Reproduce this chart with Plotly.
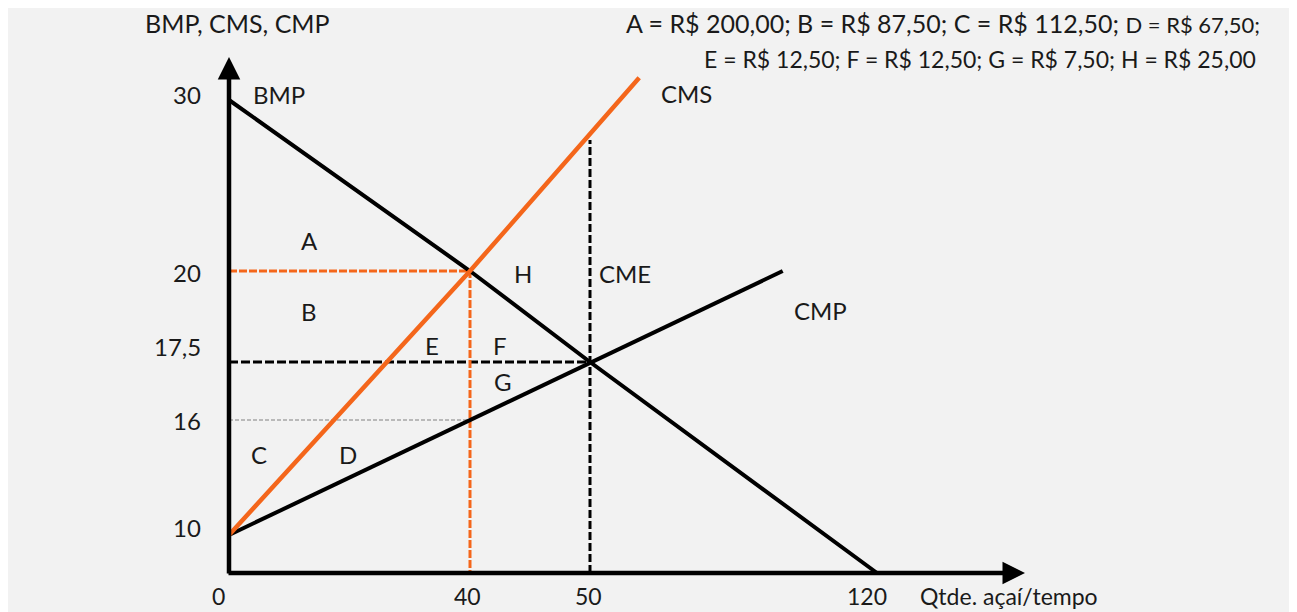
import numpy as np
import plotly.graph_objects as go

# ---------------- data (schematic diagram) ----------------
Q_TICKS = [0, 40, 50, 120]
Q_TICK_LABELS = ["0", "40", "50", "120"]
P_TICKS = [0, 10, 16, 17.5, 20, 30]
P_TICK_LABELS = ["", "10", "16", "17,5", "20", "30"]

BMP_Q = [0, 40, 50, 120]
BMP_P = [30, 20, 17.5, 0]
CMS_Q = [0, 40, 62]
CMS_P = [10, 20, 31.3]
CMP_Q = [0, 40, 50, 97]
CMP_P = [10, 16, 17.5, 20]

Q_SOCIAL, P_SOCIAL = 40, 20        # BMP = CMS
Q_MARKET, P_MARKET = 50, 17.5      # BMP = CMP
P_CMP_AT_SOCIAL = 16               # CMP at Q_SOCIAL

AREA_NAMES = ["A", "B", "C", "D", "E", "F", "G", "H"]
AREA_VALUES = ["R$ 200,00", "R$ 87,50", "R$ 112,50", "R$ 67,50",
               "R$ 12,50", "R$ 12,50", "R$ 7,50", "R$ 25,00"]

X_TITLE = "Qtde. açaí/tempo"
Y_TITLE = "BMP, CMS, CMP"

# ---------------- layout of the schematic axes (page pixels) ----------------
W, H = 1297, 612
PAGE_MARGIN = 8                          # default body margin of the html page
X0_PX, Y0_PX = 229, 573                  # origin of the drawing on the page
X_TICK_POS = [0, 241, 361, 648]          # drawn positions of Q_TICKS
Y_TICK_POS = [0, 38, 153, 211, 302, 473]  # drawn positions of P_TICKS
X_ARROW_END = 796
Y_ARROW_END = 516


def _warp(v, ticks, pos):
    v = np.asarray(v, dtype=float)
    out = np.interp(v, ticks, pos)
    hi = v > ticks[-1]
    slope = (pos[-1] - pos[-2]) / (ticks[-1] - ticks[-2])
    out[hi] = pos[-1] + (v[hi] - ticks[-1]) * slope
    return out


def sx(q):
    return _warp(q, Q_TICKS, X_TICK_POS)


def sy(p):
    return _warp(p, P_TICKS, Y_TICK_POS)


ORANGE = "#F4661B"
BLACK = "#000000"
TXT = "#1a1a1a"
FONT = "Lato"
BG = "#f2f2f2"

fig = go.Figure()


def line(xs, ys, color, width, dash="solid"):
    fig.add_trace(go.Scatter(x=xs, y=ys, mode="lines",
                             line=dict(color=color, width=width, dash=dash),
                             hoverinfo="skip", showlegend=False))


# guide lines
line(sx([0, Q_SOCIAL]), sy([P_CMP_AT_SOCIAL] * 2), "#a6a6a6", 1.5, "4px,2px")
line(sx([0, Q_MARKET]), sy([P_MARKET] * 2), BLACK, 3, "9px,3px")
cms_x, cms_y = sx(CMS_Q), sy(CMS_P)
cme_top = float(np.interp(sx([Q_MARKET])[0], cms_x, cms_y))
line(sx([Q_MARKET, Q_MARKET]), [0, cme_top - 6], BLACK, 3, "8px,3px")
line(sx([0, Q_SOCIAL, Q_SOCIAL]), sy([P_SOCIAL, P_SOCIAL, 0]), ORANGE, 3, "8px,2px")

# curves
line(sx(BMP_Q), sy(BMP_P), BLACK, 4)
line(sx(CMP_Q), sy(CMP_P), BLACK, 4)
line(cms_x, cms_y, ORANGE, 4.5)

ann = []
# axes with arrows
ann.append(dict(x=0, y=Y_ARROW_END, ax=0, ay=-2, xref="x", yref="y", axref="x", ayref="y",
                text="", showarrow=True, arrowhead=2, arrowsize=1, arrowwidth=4.5,
                arrowcolor=BLACK, standoff=0))
ann.append(dict(x=X_ARROW_END, y=0, ax=-2, ay=0, xref="x", yref="y", axref="x", ayref="y",
                text="", showarrow=True, arrowhead=2, arrowsize=1, arrowwidth=4.5,
                arrowcolor=BLACK, standoff=0))


def text(x, y, s, size=24, xanchor="center"):
    ann.append(dict(x=x, y=y, xref="x", yref="y", text=s, showarrow=False,
                    xanchor=xanchor, yanchor="middle",
                    font=dict(family=FONT, size=size, color=TXT)))


# tick labels (positions derived from tick values, small offsets as drawn)
Y_LABEL_SHIFT = {30: 6, 20: -1, 17.5: 16, 16: 0, 10: 8}
for v, lab in zip(P_TICKS, P_TICK_LABELS):
    if lab:
        text(-26, float(sy([v])[0]) + Y_LABEL_SHIFT[v], lab, xanchor="right")
X_LABEL_SHIFT = {0: -11, 40: -3, 50: -2, 120: -10}
for v, lab in zip(Q_TICKS, Q_TICK_LABELS):
    text(float(sx([v])[0]) + X_LABEL_SHIFT[v], -23, lab, size=23)
text(918 - X0_PX, -23, X_TITLE, size=23, xanchor="left")
text(143 - X0_PX, Y0_PX - 23, Y_TITLE, size=25, xanchor="left")

# curve labels
text(279 - X0_PX, Y0_PX - 94, "BMP")
text(686 - X0_PX, Y0_PX - 93, "CMS")
text(625 - X0_PX, Y0_PX - 273, "CME")
text(820 - X0_PX, Y0_PX - 310, "CMP")

# area labels
AREA_POS = {"A": (309, 240), "B": (309, 311), "C": (259, 454), "D": (348, 454),
            "E": (432, 345), "F": (500, 345), "G": (503, 381), "H": (523, 273)}
for n in AREA_NAMES:
    px, py = AREA_POS[n]
    text(px - X0_PX, Y0_PX - py, n)

# value summary (top right)
items = [f"{n} = {v};" for n, v in zip(AREA_NAMES, AREA_VALUES)]
line1 = " ".join(items[:3]) + " <span style='font-size:22px'>" + items[3] + "</span>"
line2 = " ".join(items[4:])[:-1]
text(1262 - X0_PX, Y0_PX - 23, line1, size=25, xanchor="right")
text(1258 - X0_PX, Y0_PX - 59, line2, size=23, xanchor="right")

fig.update_layout(
    width=W - PAGE_MARGIN, height=H - PAGE_MARGIN,
    margin=dict(l=0, r=0, t=0, b=0),
    paper_bgcolor=BG, plot_bgcolor=BG,
    xaxis=dict(range=[PAGE_MARGIN - X0_PX, W - X0_PX], visible=False, fixedrange=True),
    yaxis=dict(range=[Y0_PX - H, Y0_PX - PAGE_MARGIN], visible=False, fixedrange=True),
    annotations=ann,
    showlegend=False,
)

fig.write_html("out.html")
